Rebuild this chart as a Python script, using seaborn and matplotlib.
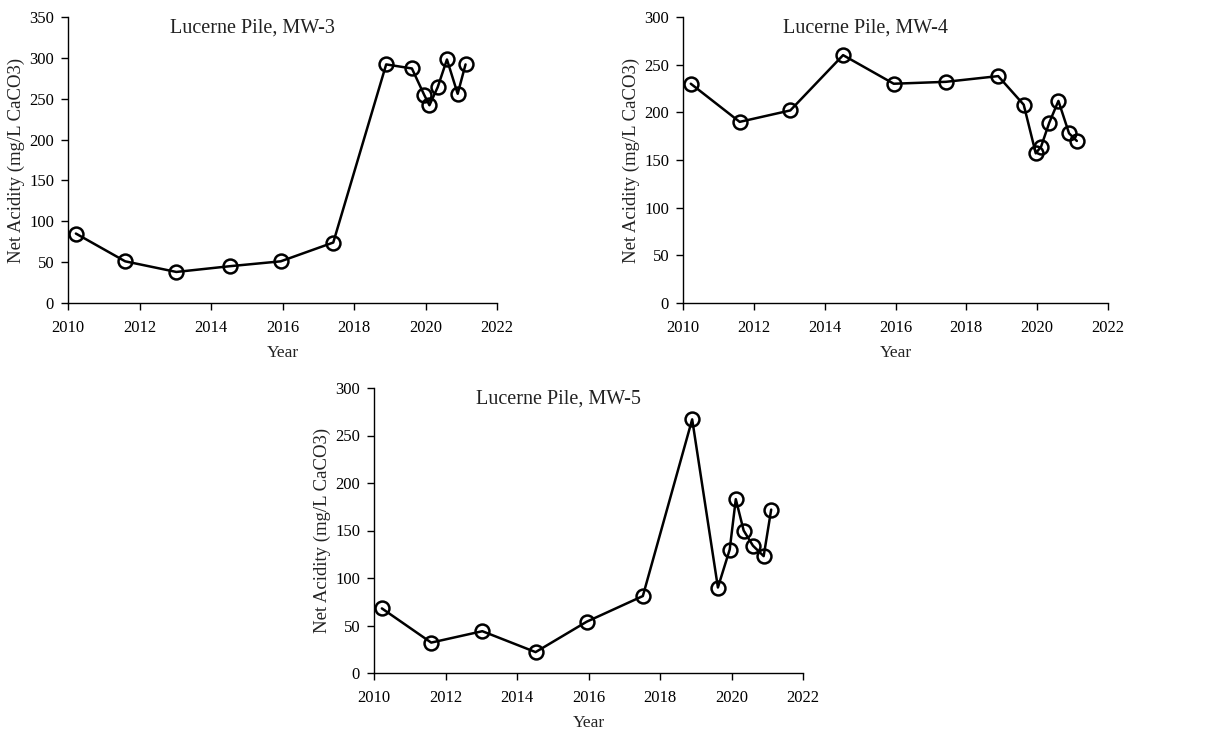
import matplotlib
matplotlib.use("Agg")
import matplotlib.pyplot as plt
import seaborn as sns
import pandas as pd

# Sampling dates (decimal years)
dates = [2010.22, 2011.60, 2013.03, 2014.52, 2015.95, 2017.42, 2018.90,
         2019.62, 2019.96, 2020.11, 2020.34, 2020.60, 2020.90, 2021.12]
dates_mw5 = [2010.22, 2011.60, 2013.03, 2014.52, 2015.95, 2017.52, 2018.90,
             2019.62, 2019.95, 2020.12, 2020.34, 2020.60, 2020.90, 2021.11]

mw3 = [85, 51, 38, 45, 51, 74, 292, 287, 255, 242, 264, 298, 256, 292]
mw4 = [230, 190, 202, 260, 230, 232, 238, 208, 157, 164, 189, 212, 178, 170]
mw5 = [68, 32, 44, 22, 54, 81, 267, 90, 130, 183, 150, 134, 123, 172]

titles = ["Lucerne Pile, MW-3", "Lucerne Pile, MW-4", "Lucerne Pile, MW-5"]
ymaxes = [350, 300, 300]
xticks = [2010, 2012, 2014, 2016, 2018, 2020, 2022]

sns.set_theme(style="ticks")
plt.rcParams['font.family'] = ['Liberation Serif', 'DejaVu Serif']

W, H = 1214, 732
fig = plt.figure(figsize=(W / 100, H / 100), dpi=100)

# axes boxes in pixels: left, right, top, bottom
boxes = [(68, 497, 17, 303), (683, 1108, 17, 303), (374, 803, 388, 673)]
series = [(dates, mw3), (dates, mw4), (dates_mw5, mw5)]

for (l, r, t, b), (xs, ys), title, ymax in zip(boxes, series, titles, ymaxes):
    ax = fig.add_axes([l / W, 1 - b / H, (r - l) / W, (b - t) / H])
    df = pd.DataFrame({"Year": xs, "Acidity": ys})
    sns.lineplot(data=df, x="Year", y="Acidity", ax=ax, sort=False,
                 color="black", linewidth=1.8, marker="o", markersize=10,
                 markerfacecolor="none", markeredgecolor="black",
                 markeredgewidth=1.8)
    ax.set_xlim(2010, 2022)
    ax.set_ylim(0, ymax)
    ax.set_xticks(xticks)
    ax.set_yticks(list(range(0, ymax + 1, 50)))
    ax.tick_params(direction="out", length=5, width=1, colors="black",
                   labelsize=12)
    ax.tick_params(axis="x", pad=7)
    ax.tick_params(axis="y", pad=5)
    for s in ["top", "right"]:
        ax.spines[s].set_visible(False)
    for s in ["left", "bottom"]:
        ax.spines[s].set_color("black")
        ax.spines[s].set_linewidth(1)
    ax.set_xlabel("Year", fontsize=12.5, color="#222222", labelpad=7)
    ax.set_ylabel("Net Acidity (mg/L CaCO3)", fontsize=13.5, color="#222222",
                  labelpad=3)
    ax.text(0.43, 0.962, title, transform=ax.transAxes, ha="center",
            va="center", fontsize=14.5, color="#222222")

fig.savefig("out.png", dpi=100)
